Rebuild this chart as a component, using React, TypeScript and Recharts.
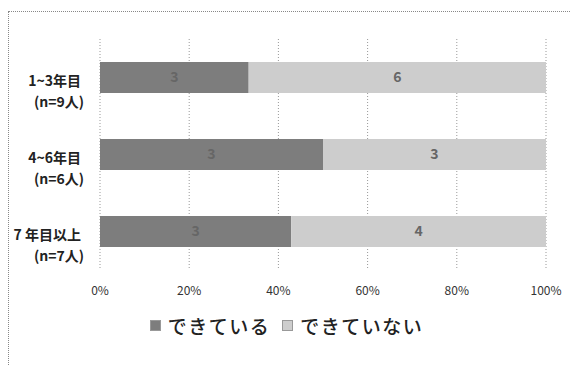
import { BarChart, Bar, XAxis, YAxis, CartesianGrid, LabelList } from 'recharts';

const CATEGORIES = ['1~3年目', '4~6年目', '7 年目以上'];
const SAMPLE_SIZES = ['(n=9人)', '(n=6人)', '(n=7人)'];
const DONE = [3, 3, 3];
const NOT_DONE = [6, 3, 4];
const SERIES = ['できている', 'できていない'];
const X_TICKS = [0, 0.2, 0.4, 0.6, 0.8, 1];

const COLORS = ['#7d7d7d', '#cdcdcd'];

const data = CATEGORIES.map((name, i) => ({
    name,
    sub: SAMPLE_SIZES[i],
    done: DONE[i],
    notDone: NOT_DONE[i],
}));

const FONT = '"Noto Sans CJK JP", "Noto Sans", sans-serif';

const CategoryTick = ({ x, y, payload, index }: any) => {
    const sub = SAMPLE_SIZES[index ?? 0];
    return (
        <g>
            <text x={x - 11} y={y + 2} textAnchor="end" dominantBaseline="central" fontSize={14} fontWeight={700} fill="#222" fontFamily={FONT}>
                {payload.value}
            </text>
            <text x={x - 8} y={y + 23} textAnchor="end" dominantBaseline="central" fontSize={14} fontWeight={700} fill="#222" fontFamily={FONT}>
                {sub}
            </text>
        </g>
    );
};

export default function App() {
    return (
        <div style={{ position: 'absolute', left: 0, top: 0, width: 571, height: 365, background: '#fff', overflow: 'hidden' }}>
            {/* dotted frame, only left and top edges are in view */}
            <div style={{ position: 'absolute', left: 8, top: 11, width: 600, height: 400, border: '1px dotted #888' }} />
            <BarChart
                width={571}
                height={365}
                data={data}
                layout="vertical"
                stackOffset="expand"
                margin={{ top: 39, right: 25, bottom: 65, left: 0 }}
                style={{ fontFamily: FONT }}
            >
                <CartesianGrid horizontal={false} stroke="#999" strokeDasharray="1 2" />
                <XAxis
                    type="number"
                    domain={[0, 1]}
                    ticks={X_TICKS}
                    tickFormatter={(v) => `${Math.round(v * 100)}%`}
                    axisLine={false}
                    tickLine={false}
                    tick={{ fontSize: 12, fill: '#333' }}
                    tickMargin={10}
                    height={30}
                />
                <YAxis type="category" dataKey="name" width={100} axisLine={false} tickLine={false} tick={<CategoryTick />} />
                <Bar dataKey="done" stackId="a" fill={COLORS[0]} barSize={31} isAnimationActive={false}>
                    <LabelList dataKey="done" position="center" fill="#666" fontSize={14} fontWeight={700} />
                </Bar>
                <Bar dataKey="notDone" stackId="a" fill={COLORS[1]} barSize={31} isAnimationActive={false}>
                    <LabelList dataKey="notDone" position="center" fill="#666" fontSize={14} fontWeight={700} />
                </Bar>
            </BarChart>
            {/* legend */}
            <div style={{ position: 'absolute', left: 0, top: 312, width: 571, display: 'flex', justifyContent: 'center', alignItems: 'center', fontFamily: FONT, fontSize: 19, fontWeight: 500, color: '#222', paddingLeft: 14, boxSizing: 'border-box' }}>
                {SERIES.map((s, i) => (
                    <div key={s} style={{ display: 'flex', alignItems: 'center', marginRight: 12 }}>
                        <span style={{ display: 'inline-block', width: 9, height: 9, background: COLORS[i], border: '1px solid #999', marginRight: 7 }} />
                        <span style={{ letterSpacing: 1.5 }}>{s}</span>
                    </div>
                ))}
            </div>
        </div>
    );
}
